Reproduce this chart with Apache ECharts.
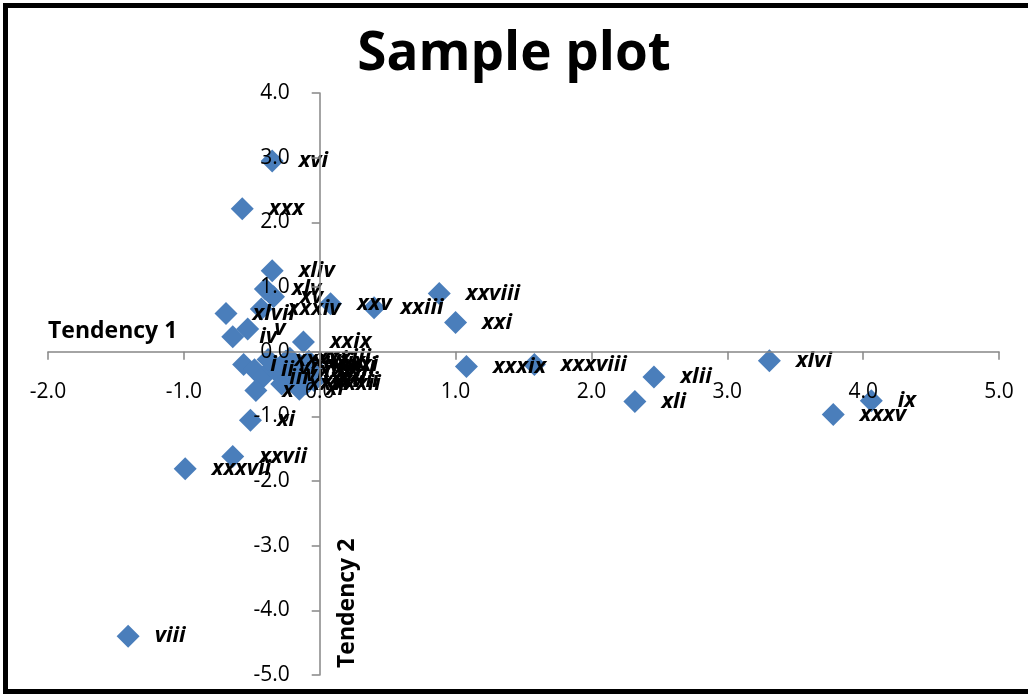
<!DOCTYPE html>
<html>
<head>
<meta charset="utf-8">
<title>Sample plot</title>
<script src="https://cdn.jsdelivr.net/npm/echarts@6/dist/echarts.min.js"></script>
<style>
  html, body { margin: 0; padding: 0; background: #fff; }
  #chart { width: 1028px; height: 695px; }
</style>
</head>
<body>
<div id="chart"></div>
<script>
// point labels, and their positions on the two tendencies
const names = ['i', 'ii', 'iii', 'iv', 'v', 'vi', 'vii', 'viii', 'ix', 'x',
  'xi', 'xii', 'xiii', 'xiv', 'xv', 'xvi', 'xvii', 'xviii', 'xix', 'xx',
  'xxi', 'xxii', 'xxiii', 'xxiv', 'xxv', 'xxvi', 'xxvii', 'xxviii', 'xxix', 'xxx',
  'xxxi', 'xxxii', 'xxxiii', 'xxxiv', 'xxxv', 'xxxvi', 'xxxvii', 'xxxviii', 'xxxix', 'xl',
  'xli', 'xlii', 'xliii', 'xliv', 'xlv', 'xlvi', 'xlvii'];
const tendency1 = [-0.56, -0.48, -0.42, -0.64, -0.53, -0.35, -0.30, -1.41, 4.06, -0.47,
  -0.51, -0.25, -0.20, -0.15, -0.34, -0.35, -0.12, -0.10, -0.08, -0.06,
  1.00, -0.05, 0.40, -0.18, 0.08, -0.28, -0.64, 0.88, -0.12, -0.57,
  -0.07, -0.10, -0.22, -0.43, 3.78, -0.38, -0.99, 1.58, 1.08, -0.15,
  2.32, 2.46, -0.04, -0.35, -0.40, 3.31, -0.69];
const tendency2 = [-0.20, -0.28, -0.40, 0.23, 0.35, -0.25, -0.35, -4.40, -0.76, -0.60,
  -1.06, -0.15, -0.30, -0.20, 0.85, 2.95, -0.40, -0.28, -0.15, -0.35,
  0.45, -0.22, 0.68, -0.45, 0.74, -0.50, -1.62, 0.90, 0.15, 2.21,
  -0.20, -0.50, -0.10, 0.66, -0.97, -0.12, -1.81, -0.20, -0.23, -0.58,
  -0.77, -0.39, -0.45, 1.25, 0.97, -0.14, 0.59];

const xMin = -2, xMax = 5, yMin = -5, yMax = 4;

const points = names.map((n, i) => ({ name: n, value: [tendency1[i], tendency2[i]] }));

const font = '"Open Sans", "Noto Sans", sans-serif';
const axisGray = '#868686';

// plot area, and where the zero lines fall inside it (axes cross at 0,0)
const W = 1028, H = 695;
const gl = 48, gr = 29, gt = 93, gb = 20;
const gw = W - gl - gr, gh = H - gt - gb;
const yAxisShift = gw * (0 - xMin) / (xMax - xMin);
const xAxisShift = gh * (0 - yMin) / (yMax - yMin);

const chart = echarts.init(document.getElementById('chart'), null, { renderer: 'canvas' });
chart.setOption({
  animation: false,
  backgroundColor: '#fff',
  title: {
    text: 'Sample plot',
    left: 'center',
    top: 23,
    padding: [5, 0, 5, 22],
    textStyle: { fontFamily: font, fontSize: 53, fontWeight: 'bold', color: '#000' }
  },
  graphic: [{
    type: 'rect',
    shape: { x: 5.5, y: 5.5, width: 1100, height: 686 },
    style: { fill: null, stroke: '#000', lineWidth: 5 },
    silent: true
  }],
  grid: { left: gl, right: gr, top: gt, bottom: gb, outerBoundsMode: 'none' },
  xAxis: {
    type: 'value',
    z: 3,
    min: xMin, max: xMax, interval: 1,
    offset: -xAxisShift,
    name: 'Tendency 1',
    nameLocation: 'start',
    nameGap: 0,
    nameTextStyle: {
      fontFamily: font, fontSize: 23, fontWeight: 'bold', color: '#000',
      align: 'left', verticalAlign: 'bottom', padding: [0, 0, 9, 0]
    },
    axisLine: { onZero: false, lineStyle: { color: axisGray, width: 1.5 } },
    axisTick: { show: true, length: 8, lineStyle: { color: axisGray, width: 1.5 } },
    axisLabel: {
      margin: 30, fontFamily: font, fontSize: 21, color: '#000',
      formatter: v => v.toFixed(1)
    },
    splitLine: { show: false }
  },
  yAxis: {
    type: 'value',
    z: 3,
    min: yMin, max: yMax, interval: 1,
    offset: -yAxisShift,
    name: 'Tendency 2',
    nameLocation: 'start',
    nameGap: -7,
    nameRotate: 90,
    nameTextStyle: {
      fontFamily: font, fontSize: 23, fontWeight: 'bold', color: '#000',
      align: 'left', verticalAlign: 'top', padding: [16, 0, 0, 0]
    },
    axisLine: { onZero: false, lineStyle: { color: axisGray, width: 1.5 } },
    axisTick: { show: true, length: 8, lineStyle: { color: axisGray, width: 1.5 } },
    axisLabel: {
      margin: 30, fontFamily: font, fontSize: 21, color: '#000',
      formatter: v => v.toFixed(1)
    },
    splitLine: { show: false }
  },
  series: [{
    type: 'scatter',
    z: 2,
    symbol: 'diamond',
    symbolSize: 23,
    itemStyle: { color: '#4A7EBB', opacity: 1 },
    label: {
      show: true,
      position: 'right',
      distance: 15,
      formatter: '{b}',
      fontFamily: font, fontSize: 22, fontWeight: 'bold', fontStyle: 'italic', color: '#000'
    },
    data: points
  }]
});
</script>
</body>
</html>
